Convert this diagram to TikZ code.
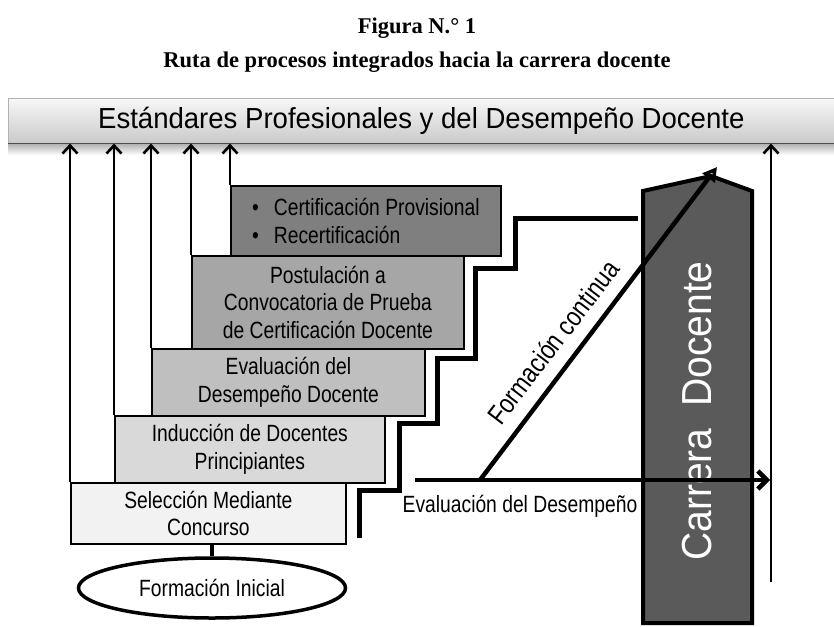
\documentclass[tikz,border=0pt]{standalone}
\usepackage{fontspec}
\setmainfont{Liberation Serif}
\newfontfamily\narrowf[FakeStretch=0.82]{Liberation Sans}
\newfontfamily\barf[FakeStretch=0.95]{Liberation Sans}
\newfontfamily\carf[FakeStretch=0.93]{Liberation Sans}
\usetikzlibrary{arrows.meta,shapes.geometric}
\definecolor{gsel}{HTML}{F2F2F2}
\definecolor{gind}{HTML}{D9D9D9}
\definecolor{geva}{HTML}{BFBFBF}
\definecolor{gpos}{HTML}{A6A6A6}
\definecolor{gcer}{HTML}{7F7F7F}
\definecolor{gcar}{HTML}{5A5A5A}
\begin{document}
\begin{tikzpicture}[x=1pt,y=-1pt,
  boxfont/.style={font=\narrowf\fontsize{23.5}{27.5}\selectfont},
  stepbox/.style={draw, line width=1.8pt, inner sep=0pt, anchor=north west, align=center, boxfont},
  uparrow/.style={line width=2.6pt, -{Straight Barb[length=8pt,width=15pt]}},
  thickarrow/.style={line width=4.5pt, -{Straight Barb[length=9pt,width=18pt]}},
  titlefont/.style={font=\bfseries\fontsize{22.5}{26}\selectfont}
]
\useasboundingbox (0,0) rectangle (834,626);

% titles
\node[titlefont] (t1) at (417,28) {Figura N.° 1};
\node[titlefont] (t2) at (417,62) {Ruta de procesos integrados hacia la carrera docente};

% bar with shadow
\shade[top color=gray!65, bottom color=white] (8,143) rectangle (834,155);
\node[anchor=north west, minimum width=826pt, minimum height=45pt, inner sep=0pt,
      top color=gray!6, bottom color=gray!42, draw=gray!60, line width=0.6pt,
      font=\barf\fontsize{29}{30}\selectfont] (bar) at (8,98)
      {Estándares Profesionales y del Desempeño Docente};
\draw[line width=1.6pt, gray!60!black] (bar.south west) -- (bar.south east);

% staircase line
\draw[line width=5pt, line join=miter] (359,538) |- (399,490) |- (437,423) |- (475,358) |- (515,268) |- (638,218);

% step boxes
\node[stepbox, fill=gcer, minimum width=270pt, minimum height=70pt, align=left] (cer) at (230,185)
  {\textbullet\hspace{15pt}Certificación Provisional\\ \textbullet\hspace{15pt}Recertificación};
\node[stepbox, fill=gpos, minimum width=272pt, minimum height=93pt] (pos) at (191,255)
  {Postulación a\\ Convocatoria de Prueba\\ de Certificación Docente};
\node[stepbox, fill=geva, minimum width=273pt, minimum height=67pt] (eva) at (151,348)
  {Evaluación del\\ Desempeño Docente};
\node[stepbox, fill=gind, minimum width=270pt, minimum height=67pt] (ind) at (114,415)
  {Inducción de Docentes\\ Principiantes};
\node[stepbox, fill=gsel, minimum width=275pt, minimum height=61pt] (sel) at (70,482)
  {Selección Mediante\\ Concurso};

% initial training
\node[ellipse, draw, line width=3.5pt, minimum width=267pt, minimum height=60pt, boxfont] (fi) at (212,588) {Formación Inicial};
\draw[line width=3.5pt] (fi.north) -- (fi.north |- sel.south);

% up arrows
\draw[uparrow] (sel.north west) -- (sel.north west |- bar.south);
\draw[uparrow] (ind.north west) -- (ind.north west |- bar.south);
\draw[uparrow] (eva.north west) -- (eva.north west |- bar.south);
\draw[uparrow] (pos.north west) -- (pos.north west |- bar.south);
\draw[uparrow] (cer.north west) -- (cer.north west |- bar.south);
\coordinate (r0) at (771,582);
\draw[uparrow] (r0) -- (r0 |- bar.south);

% Carrera docente column
\draw[line width=4pt, fill=gcar, line join=miter] (643,623) -- (643,191) -- (711,176) -- (752,191) -- (752,623) -- cycle;
\node[rotate=90, text=white, font=\carf\fontsize{42}{42}\selectfont] (car) at (697,411) {Carrera\ \ Docente};

% evaluation arrow
\coordinate (e0) at (415,480);
\coordinate (e1) at (770,480);
\draw[thickarrow] (e0) -- (e1);
\node[boxfont] (evlab) at (520,506) {Evaluación del Desempeño};

% continuous training arrow
\coordinate (f0) at (480,480);
\coordinate (f1) at (717,167);
\draw[line width=4.5pt, -{Triangle[open,length=14pt,width=15pt]}] (f0) -- (f1);
\node[rotate=52.7, anchor=base, font=\narrowf\fontsize{27.5}{28}\selectfont] (fclab) at (561,348) {Formación continua};
\end{tikzpicture}
\end{document}
